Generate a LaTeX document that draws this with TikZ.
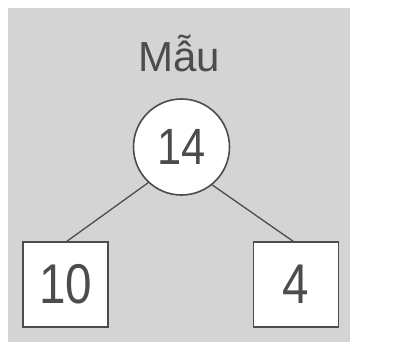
\documentclass[tikz,border=0pt]{standalone}
\usepackage{fontspec}
\setmainfont{Liberation Sans}
\definecolor{paper}{gray}{0.83}
\definecolor{ink}{gray}{0.3}
\newcommand{\narrow}[1]{\scalebox{0.85}[1]{#1}}
\tikzset{numbox/.style={draw=ink,line width=1.6pt,fill=white,minimum size=85pt,inner sep=0pt,text=ink,font=\fontsize{56}{56}\selectfont},
  numcirc/.style={circle,draw=ink,line width=1.6pt,fill=white,minimum size=96pt,inner sep=0pt,text=ink,font=\fontsize{51}{51}\selectfont}}

\begin{document}
\begin{tikzpicture}[x=1pt,y=-1pt]
        \useasboundingbox (0,0) rectangle (420,343);
        \fill[paper] (8,8) rectangle (350,342);
        \node[text=ink,font=\fontsize{42}{42}\selectfont] (mau) at (179,54) {Mẫu};
        \node[numcirc] (c) at (181.5,147) {\narrow{14}};
        \node[numbox] (l) at (65.5,284.5) {\narrow{10}};
        \node[numbox] (r) at (296,284.5) {\narrow{4}};
        \draw[ink,line width=1.3pt] (c.227) -- ([xshift=1.5pt]l.north);
        \draw[ink,line width=1.3pt] (c.309) -- ([xshift=-3pt]r.north);
    \end{tikzpicture}
\end{document}
